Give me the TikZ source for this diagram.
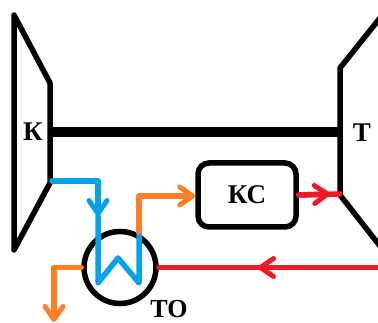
\documentclass[tikz,border=0pt]{standalone}
\usepackage{fontspec}
\setmainfont{Liberation Serif}
\usetikzlibrary{arrows.meta}
\definecolor{bluef}{HTML}{00A2E8}
\definecolor{orangef}{HTML}{FF7F27}
\definecolor{redf}{HTML}{ED1C24}
\tikzset{
  x=1pt,y=-1pt,
  machine/.style={draw=black,line width=5.5pt,line join=round,line cap=round},
  shaft/.style={draw=black,line width=10pt},
  pipe/.style={line width=5.5pt,line join=round,line cap=round},
  bluepipe/.style={pipe,draw=bluef},
  orangepipe/.style={pipe,draw=orangef},
  redpipe/.style={pipe,draw=redf},
  headed/.style={-{Straight Barb[length=13pt,width=18pt,line width=5pt,round]}},
  lab/.style={font=\bfseries\fontsize{27}{27}\selectfont,inner sep=0pt,text=black},
}
\begin{document}
\begin{tikzpicture}
\useasboundingbox (0,0) rectangle (378,323);
% compressor and turbine
\draw[machine] (14,15) -- (14,250) -- (50,183) -- (50,83) -- cycle;
\draw[machine] (380,18) -- (340,68) -- (340,195) -- (380,246);
\coordinate (compL) at (50,132);
\coordinate (turbL) at (340,132);
\draw[shaft] (compL) -- (turbL);
% equipment
\node[draw=black,line width=5.5pt,rounded corners=11pt,minimum width=98pt,minimum height=64pt,inner sep=0pt,lab] (ks) at (247,195) {КС};
\node[circle,draw=black,line width=5.5pt,minimum size=72pt,inner sep=0pt] (to) at (120,267.5) {};
% coordinates
\coordinate (compOut) at (52,181);
\coordinate (blueCorner) at (98,181);
\coordinate (blueArrow) at (98,216);
\coordinate (coilA) at (98,283);
\coordinate (coilB) at (118,258);
\coordinate (coilC) at (139,283);
\coordinate (coilTop) at (139,232);
\coordinate (orangeCorner) at (139,196);
\coordinate (orangeC) at (54,267.5);
\coordinate (orangeEnd) at (54,322);
\coordinate (redIn) at (380,267.5);
\coordinate (redArrow) at (258,267.5);
\coordinate (turbOut) at (340,194);
\coordinate (redArrow2) at (330,194);
% blue
\draw[bluepipe,headed] (compOut) -- (blueCorner) -- (blueArrow);
\draw[bluepipe] (blueArrow) -- (coilA) -- (coilB) -- (coilC) -- (coilTop);
% orange
\draw[orangepipe,headed] (coilTop) -- (orangeCorner) -- (ks.west |- orangeCorner);
\draw[orangepipe,headed] (to.west) -- (orangeC) -- (orangeEnd);
% red
\draw[redpipe] (redIn) -- (to.east);
\draw[redpipe,headed] (redIn) -- (redArrow);
\draw[redpipe] (ks.east) -- (turbOut);
\draw[redpipe,headed] (ks.east) -- (redArrow2);
% labels
\node[lab] (k) at (33,132) {К};
\node[lab] (t) at (362,133) {Т};
\node[lab,font=\bfseries\fontsize{26}{26}\selectfont] (tolab) at (169,309.5) {ТО};
\end{tikzpicture}
\end{document}
